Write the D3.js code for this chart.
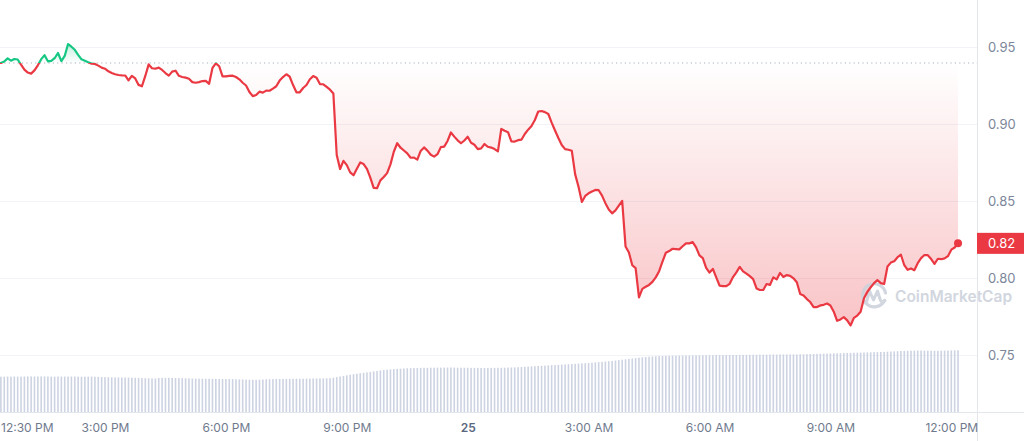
<!DOCTYPE html>
<html>
<head>
<meta charset="utf-8">
<script src="https://cdn.jsdelivr.net/npm/d3@7/dist/d3.min.js"></script>
<style>
  html, body { margin: 0; padding: 0; background: #ffffff; }
  svg { display: block; }
  text { font-family: Inter, "Noto Sans", sans-serif; }
</style>
</head>
<body>
<svg id="chart" width="1024" height="441"></svg>
<script>
// ---------------- DATA ----------------
const startUTC = Date.UTC(2024, 2, 24, 12, 20); // first sample, 12:20 PM
const stepMinutes = 5;
const openPrice = 0.9396;
const priceTicks = [0.75, 0.80, 0.85, 0.90, 0.95];
const timeTickLabels = ["12:30 PM", "3:00 PM", "6:00 PM", "9:00 PM", "25", "3:00 AM", "6:00 AM", "9:00 AM", "12:00 PM"];
const lastPriceLabel = "0.82";
const watermark = "CoinMarketCap";

const price = [
0.9396,0.9396,0.9406,0.9426,0.9411,0.9422,0.9419,0.9385,0.9353,0.9334,
0.9327,0.9348,0.9381,0.9421,0.9447,0.9407,0.9410,0.9427,0.9461,0.9408,
0.9442,0.9519,0.9502,0.9482,0.9449,0.9420,0.9411,0.9401,0.9392,0.9390,
0.9379,0.9366,0.9359,0.9342,0.9331,0.9323,0.9318,0.9316,0.9315,0.9283,
0.9313,0.9296,0.9254,0.9245,0.9312,0.9387,0.9362,0.9359,0.9366,0.9351,
0.9331,0.9314,0.9340,0.9346,0.9313,0.9305,0.9301,0.9294,0.9272,0.9268,
0.9272,0.9279,0.9280,0.9261,0.9364,0.9394,0.9375,0.9309,0.9309,0.9312,
0.9314,0.9305,0.9290,0.9268,0.9250,0.9208,0.9181,0.9188,0.9210,0.9204,
0.9217,0.9216,0.9230,0.9245,0.9282,0.9305,0.9323,0.9307,0.9253,0.9206,
0.9206,0.9234,0.9253,0.9291,0.9311,0.9301,0.9259,0.9258,0.9241,0.9223,
0.9198,0.8799,0.8708,0.8761,0.8733,0.8686,0.8667,0.8710,0.8750,0.8740,
0.8709,0.8652,0.8585,0.8583,0.8634,0.8656,0.8681,0.8738,0.8820,0.8875,
0.8846,0.8828,0.8809,0.8781,0.8782,0.8769,0.8825,0.8848,0.8827,0.8800,
0.8788,0.8804,0.8850,0.8853,0.8890,0.8945,0.8918,0.8894,0.8875,0.8893,
0.8917,0.8878,0.8865,0.8837,0.8842,0.8870,0.8852,0.8847,0.8837,0.8822,
0.8968,0.8956,0.8947,0.8887,0.8886,0.8895,0.8898,0.8935,0.8963,0.8987,
0.9026,0.9081,0.9084,0.9077,0.9065,0.9009,0.8958,0.8909,0.8864,0.8837,
0.8833,0.8826,0.8673,0.8593,0.8494,0.8533,0.8550,0.8562,0.8572,0.8570,
0.8535,0.8486,0.8445,0.8420,0.8439,0.8470,0.8500,0.8205,0.8166,0.8083,
0.8064,0.7874,0.7929,0.7943,0.7955,0.7975,0.8004,0.8044,0.8106,0.8164,
0.8175,0.8190,0.8188,0.8186,0.8206,0.8225,0.8225,0.8233,0.8199,0.8147,
0.8129,0.8066,0.8035,0.8059,0.8004,0.7950,0.7947,0.7947,0.7962,0.8006,
0.8037,0.8072,0.8043,0.8028,0.8012,0.7993,0.7932,0.7922,0.7922,0.7961,
0.7955,0.8004,0.7991,0.8033,0.8007,0.8019,0.8014,0.7998,0.7972,0.7896,
0.7887,0.7863,0.7844,0.7811,0.7811,0.7822,0.7826,0.7834,0.7822,0.7781,
0.7722,0.7731,0.7746,0.7725,0.7692,0.7741,0.7756,0.7781,0.7869,0.7910,
0.7940,0.7967,0.7986,0.7967,0.7961,0.8075,0.8100,0.8109,0.8135,0.8151,
0.8083,0.8053,0.8062,0.8051,0.8096,0.8129,0.8149,0.8148,0.8123,0.8092,
0.8125,0.8122,0.8127,0.8142,0.8184,0.8198,0.8225
];

const volumeM = [
35.2,35.3,35.3,35.4,35.4,35.5,35.4,35.4,35.5,35.6,35.6,35.5,35.5,35.6,35.6,35.5,35.4,35.4,35.5,35.4,
35.4,35.4,35.5,35.5,35.4,35.3,35.3,35.4,35.4,35.3,35.2,35.0,34.9,34.8,34.7,34.6,34.6,34.5,34.5,34.4,
34.3,34.2,34.1,34.0,33.8,33.7,33.6,33.5,34.0,34.1,34.2,34.2,34.1,34.0,33.9,33.8,33.7,33.6,33.5,33.4,
33.3,33.3,33.2,33.2,33.2,33.1,33.1,33.0,33.0,33.0,32.9,32.8,32.6,32.5,32.4,32.3,32.2,32.2,32.3,32.5,
32.7,32.8,32.9,33.0,33.0,33.1,33.1,33.2,33.2,33.3,33.3,33.3,33.4,33.4,33.5,33.5,33.6,33.6,33.7,33.8,
34.3,34.9,35.5,36.1,36.7,37.3,37.8,38.3,38.8,39.2,39.7,40.1,40.6,41.0,41.5,41.9,42.3,42.6,42.9,43.1,
43.3,43.5,43.7,43.8,43.9,44.0,44.1,44.2,44.2,44.3,44.3,44.4,44.4,44.4,44.4,44.5,44.4,44.3,44.3,44.2,
44.2,44.1,44.1,44.1,44.0,44.0,44.0,44.1,44.1,44.2,44.2,44.3,44.4,44.5,44.6,44.8,45.0,45.2,45.4,45.6,
45.8,46.0,46.2,46.4,46.6,46.8,47.0,47.2,47.4,47.6,47.8,48.0,48.2,48.4,48.6,48.8,49.0,49.3,49.6,49.9,
50.2,50.5,50.8,51.1,51.5,51.9,52.3,52.7,53.1,53.5,53.9,54.3,54.7,55.0,55.3,55.5,55.7,55.9,56.0,56.1,
56.2,56.3,56.3,56.4,56.4,56.5,56.5,56.6,56.6,56.7,56.7,56.8,56.8,56.8,56.9,56.9,56.9,57.0,57.0,57.0,
57.0,57.1,57.1,57.1,57.2,57.2,57.2,57.3,57.3,57.3,57.4,57.4,57.4,57.5,57.5,57.5,57.6,57.6,57.6,57.7,
57.7,57.8,57.9,58.0,58.1,58.2,58.3,58.4,58.5,58.6,58.7,58.8,58.9,59.0,59.1,59.2,59.3,59.4,59.5,59.6,
59.7,59.8,59.9,60.0,60.1,60.3,60.5,60.6,60.8,61.0,61.1,61.2,61.3,61.4,61.5,61.5,61.4,61.3,61.3,61.2,
61.2,61.3,61.4,61.5,61.6,61.7,61.8
];

// ---------------- SETUP ----------------
const W = 1024, H = 441;
const axisX = 977, axisY = 412;
const RED = "#ea3943", GREEN = "#16c784";

const times = price.map((_, i) => new Date(startUTC + i * stepMinutes * 60000));
const series = price.map((p, i) => ({ t: times[i], p, v: volumeM[i] }));

const x = d3.scaleUtc()
  .domain([new Date(Date.UTC(2024, 2, 24, 12, 0)), new Date(Date.UTC(2024, 2, 25, 12, 0))])
  .range([-15.9, 951.3]);
const y = d3.scaleLinear().domain([0.75, 0.95]).range([355, 47]);
const yv = d3.scaleLinear().domain([0, 100]).range([axisY, axisY - 100]);

const svg = d3.select("#chart");
const defs = svg.append("defs");

const refY = y(openPrice);
defs.append("clipPath").attr("id", "clipBelow")
  .append("rect").attr("x", -20).attr("y", refY).attr("width", W + 40).attr("height", H - refY);
defs.append("clipPath").attr("id", "clipAbove")
  .append("rect").attr("x", -20).attr("y", 0).attr("width", W + 40).attr("height", refY);

const gRed = defs.append("linearGradient").attr("id", "gradRed")
  .attr("gradientUnits", "userSpaceOnUse").attr("x1", 0).attr("x2", 0)
  .attr("y1", refY).attr("y2", y(d3.min(price)));
gRed.append("stop").attr("offset", 0).attr("stop-color", RED).attr("stop-opacity", 0.0);
gRed.append("stop").attr("offset", 1).attr("stop-color", RED).attr("stop-opacity", 0.3);

const gGreen = defs.append("linearGradient").attr("id", "gradGreen")
  .attr("gradientUnits", "userSpaceOnUse").attr("x1", 0).attr("x2", 0)
  .attr("y1", refY).attr("y2", y(d3.max(price)));
gGreen.append("stop").attr("offset", 0).attr("stop-color", GREEN).attr("stop-opacity", 0.0);
gGreen.append("stop").attr("offset", 1).attr("stop-color", GREEN).attr("stop-opacity", 0.25);

// grid lines
svg.append("g").selectAll("line").data(priceTicks).join("line")
  .attr("x1", 0).attr("x2", axisX)
  .attr("y1", d => Math.round(y(d)) + 0.5).attr("y2", d => Math.round(y(d)) + 0.5)
  .attr("stroke", "#f1f3f6").attr("stroke-width", 1);

// volume bars
svg.append("g").selectAll("rect").data(series).join("rect")
  .attr("x", d => x(d.t) - 0.8)
  .attr("width", 1.6)
  .attr("y", d => yv(d.v))
  .attr("height", d => axisY - yv(d.v))
  .attr("fill", "#cdd3e2");

// areas
const area = d3.area().x(d => x(d.t)).y0(refY).y1(d => y(d.p));
svg.append("path").datum(series).attr("d", area)
  .attr("fill", "url(#gradRed)").attr("clip-path", "url(#clipBelow)");
svg.append("path").datum(series).attr("d", area)
  .attr("fill", "url(#gradGreen)").attr("clip-path", "url(#clipAbove)");

// reference dotted line
svg.append("line")
  .attr("x1", 0).attr("x2", axisX).attr("y1", refY).attr("y2", refY)
  .attr("stroke", "#a7afbd").attr("stroke-width", 1.2).attr("stroke-dasharray", "1.2,3.2");

// watermark
const wm = svg.append("g").attr("opacity", 0.9);
wm.append("path")
  .attr("d", "M884.5,300.5 A11.5,11.5 0 1 1 885.5,293")
  .attr("fill", "none").attr("stroke", "#cdd2dc").attr("stroke-width", 3.2).attr("stroke-linecap", "round");
wm.append("path")
  .attr("d", "M866.5,302 L869.5,291 L873.5,300 L877.5,291 L880.5,300.5 Q882,303 885,300.5")
  .attr("fill", "none").attr("stroke", "#cdd2dc").attr("stroke-width", 3).attr("stroke-linejoin", "round").attr("stroke-linecap", "round");
wm.append("text").attr("x", 895).attr("y", 302)
  .attr("font-size", 15.5).attr("font-weight", 600).attr("fill", "#cdd2dc")
  .text(watermark);

// price line
const line = d3.line().x(d => x(d.t)).y(d => y(d.p));
svg.append("path").datum(series).attr("d", line)
  .attr("fill", "none").attr("stroke", RED).attr("stroke-width", 2.2)
  .attr("stroke-linejoin", "round").attr("clip-path", "url(#clipBelow)");
svg.append("path").datum(series).attr("d", line)
  .attr("fill", "none").attr("stroke", GREEN).attr("stroke-width", 2.2)
  .attr("stroke-linejoin", "round").attr("clip-path", "url(#clipAbove)");

// end dot
const last = series[series.length - 1];
svg.append("circle").attr("cx", x(last.t)).attr("cy", y(last.p)).attr("r", 4).attr("fill", RED);

// axis frame lines
svg.append("line").attr("x1", axisX + 0.5).attr("x2", axisX + 0.5).attr("y1", 0).attr("y2", H)
  .attr("stroke", "#e3e6eb");
svg.append("line").attr("x1", 0).attr("x2", W).attr("y1", axisY + 0.5).attr("y2", axisY + 0.5)
  .attr("stroke", "#e3e6eb");

// y axis (right)
const yAxis = d3.axisRight(y).tickValues(priceTicks).tickSize(0).tickPadding(11)
  .tickFormat(d3.format(".2f"));
const gy = svg.append("g").attr("transform", `translate(${axisX},0)`).call(yAxis);
gy.select(".domain").remove();
gy.selectAll("text").attr("font-size", 13).attr("fill", "#7c8699")
  .attr("font-family", "Inter, 'Noto Sans', sans-serif");

// last price label
const ly = y(last.p);
svg.append("rect").attr("x", axisX).attr("y", ly - 10.5).attr("width", W - axisX).attr("height", 21)
  .attr("fill", RED);
svg.append("text").attr("x", axisX + 11).attr("y", ly).attr("dy", "0.35em")
  .attr("font-size", 13).attr("fill", "#ffffff").text(lastPriceLabel);

// x axis
const tickTimes = [
  Date.UTC(2024, 2, 24, 12, 30), Date.UTC(2024, 2, 24, 15), Date.UTC(2024, 2, 24, 18),
  Date.UTC(2024, 2, 24, 21), Date.UTC(2024, 2, 25, 0), Date.UTC(2024, 2, 25, 3),
  Date.UTC(2024, 2, 25, 6), Date.UTC(2024, 2, 25, 9), Date.UTC(2024, 2, 25, 12)
].map(t => new Date(t));
const xAxis = d3.axisBottom(x).tickValues(tickTimes).tickSize(0).tickPadding(11)
  .tickFormat((d, i) => timeTickLabels[i]);
const gx = svg.append("g").attr("transform", `translate(0,${axisY})`).call(xAxis);
gx.select(".domain").remove();
gx.selectAll("text").attr("font-size", 12).attr("fill", "#6f7a8d")
  .attr("font-family", "Inter, 'Noto Sans', sans-serif");
gx.selectAll(".tick").filter((d, i) => i === 4).select("text").attr("font-weight", 600).attr("fill", "#58667e");
gx.selectAll(".tick").filter((d, i) => i === 0).select("text")
  .attr("text-anchor", "start").attr("x", d => 0.5 - x(d));
</script>
</body>
</html>
